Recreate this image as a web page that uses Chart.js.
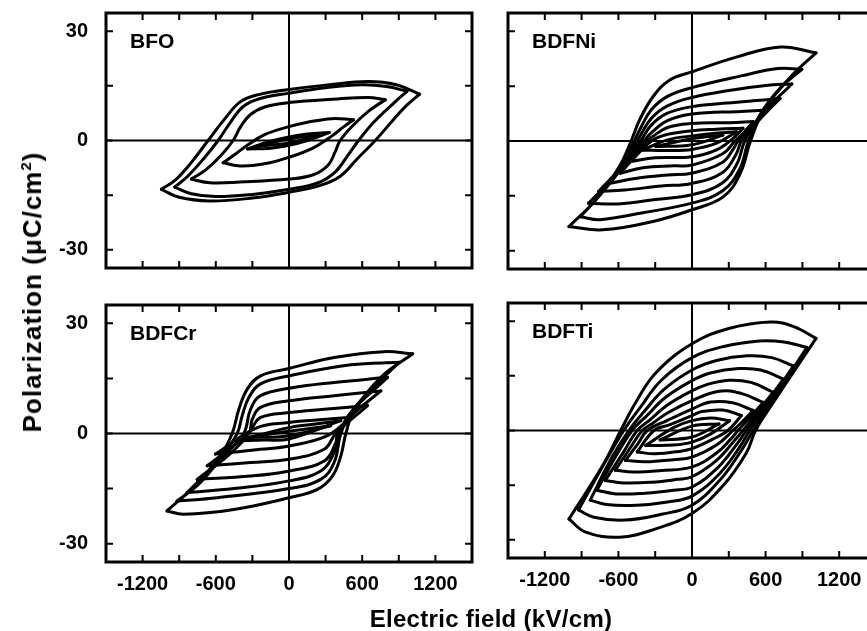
<!DOCTYPE html>
<html>
<head>
<meta charset="utf-8">
<script src="https://cdn.jsdelivr.net/npm/chart.js@4.4.1/dist/chart.umd.min.js"></script>
<style>
  html, body { margin: 0; padding: 0; background: #fff; overflow: hidden; }
  body { width: 867px; height: 631px; position: relative; font-family: "Liberation Sans", Arial, sans-serif; }
  canvas { position: absolute; }
  .axt { position: absolute; font-weight: bold; font-size: 24px; line-height: 24px; color: #000; white-space: nowrap; }
  .axt sup { font-size: 15px; line-height: 0; vertical-align: 10px; }
  #xTitle { left: 491px; top: 607px; transform: translateX(-50%); letter-spacing: 0.3px; }
  #yTitle { left: 32px; top: 292px; font-size: 26px; letter-spacing: 1px; transform: translate(-50%, -50%) rotate(-90deg); }
</style>
</head>
<body>
<canvas id="pBFO" width="490" height="300" style="left:0;top:0"></canvas>
<canvas id="pNi" width="400" height="300" style="left:490px;top:0"></canvas>
<canvas id="pCr" width="490" height="320" style="left:0;top:290px"></canvas>
<canvas id="pTi" width="400" height="320" style="left:490px;top:290px"></canvas>
<div class="axt" id="xTitle">Electric field (kV/cm)</div>
<div class="axt" id="yTitle">Polarization (&mu;C/cm<sup>2</sup>)</div>
<script>
// axis ticks (kV/cm and uC/cm2)
const eTicks = [-1200, -900, -600, -300, 0, 300, 600, 900, 1200];
const eLabels = [-1200, -600, 0, 600, 1200];
const pTicks = [-30, -15, 0, 15, 30];
const pLabels = [-30, 0, 30];

// each loop: upper branch (field going down) and lower branch (field going up), [E, P]
const bfoUpper = [
  [[1071,12.7],[880,15.3],[650,16.2],[300,15.2],[0,14.0],[-250,12.6],[-400,10.6],[-530,5.8],[-663,0],[-800,-6],[-930,-10.8],[-1046,-13.4]],
  [[967,13.5],[800,14.8],[600,15.3],[300,14.5],[0,13.0],[-250,11.4],[-380,9.2],[-480,5.0],[-581,0],[-700,-5.0],[-830,-9.8],[-937,-12.8]],
  [[789,11.2],[650,11.8],[400,11.4],[0,10.4],[-200,9.2],[-320,7.0],[-400,3.6],[-458,0],[-560,-4.2],[-680,-8.0],[-800,-10.6]],
  [[529,5.7],[350,6.0],[150,5.0],[0,3.8],[-200,1.6],[-350,-1.5],[-450,-4.0],[-540,-6.1]],
  [[330,2.2],[150,1.8],[0,1.0],[-150,-0.2],[-340,-2.3]],
  [[240,1.5],[0,0.4],[-260,-1.6]]
];
const bfoLower = [
  [[-1046,-13.4],[-900,-15.6],[-650,-16.6],[-300,-15.8],[0,-14.2],[250,-12.4],[420,-9.8],[560,-5.0],[707,0],[850,5.5],[960,9.5],[1071,12.7]],
  [[-937,-12.8],[-800,-14.6],[-600,-15.4],[-300,-14.8],[0,-13.4],[240,-11.6],[380,-8.6],[480,-4.2],[570,0],[700,5.2],[850,10.0],[967,13.5]],
  [[-800,-10.6],[-650,-11.6],[-400,-11.4],[0,-10.6],[200,-9.4],[320,-6.8],[380,-3.0],[419,0],[520,4.0],[650,8.0],[789,11.2]],
  [[-540,-6.1],[-400,-7.0],[-200,-6.4],[0,-4.6],[200,-2.0],[350,1.2],[450,3.8],[529,5.7]],
  [[-340,-2.3],[-150,-2.1],[0,-1.3],[150,0],[330,2.2]],
  [[-260,-1.6],[0,-0.7],[240,1.5]]
];

const niUpper = [
  [[1011,24.1],[723,25.7],[367,23.0],[0,18.9],[-181,16.7],[-318,12.1],[-428,5.7],[-496,0],[-592,-7.0],[-784,-16.1],[-1003,-23.4]],
  [[896,19.6],[700,19.8],[400,17.8],[0,14.6],[-200,12.2],[-330,8.6],[-420,3.5],[-470,0],[-580,-7.5],[-750,-14.8],[-910,-20.7]],
  [[814,15.6],[600,15.2],[300,13.8],[0,11.9],[-200,9.6],[-330,6.2],[-447,0],[-600,-8.5],[-844,-17.0]],
  [[718,11.6],[500,11.0],[250,10.3],[0,9.4],[-200,7.6],[-330,4.4],[-419,0],[-560,-6.5],[-762,-13.8]],
  [[622,8.5],[400,8.1],[0,7.4],[-200,5.6],[-320,2.6],[-392,0],[-520,-5.5],[-680,-11.6]],
  [[499,5.3],[300,5.0],[0,4.8],[-200,3.7],[-330,1.0],[-370,0],[-460,-4.0],[-584,-8.8]],
  [[416,3.5],[200,3.2],[0,2.8],[-200,1.8],[-330,0],[-501,-5.6]],
  [[362,2.5],[150,2.0],[0,1.4],[-200,0.3],[-405,-2.5]],
  [[252,1.6],[0,0.6],[-296,-1.5]]
];
const niLower = [
  [[-1003,-23.4],[-729,-24.3],[-318,-22.0],[0,-18.8],[257,-15.2],[394,-8.8],[477,0],[586,8.5],[806,17.6],[1011,24.1]],
  [[-910,-20.7],[-750,-21.5],[-400,-19.6],[0,-17.0],[250,-13.6],[390,-7.6],[460,0],[560,7.5],[720,14.5],[896,19.6]],
  [[-844,-17.0],[-600,-17.2],[-300,-16.0],[0,-14.7],[250,-11.4],[370,-6.0],[430,0],[560,7.0],[814,15.6]],
  [[-762,-13.8],[-550,-13.4],[-250,-12.3],[0,-11.6],[250,-8.6],[360,-3.6],[403,0],[550,5.8],[718,11.6]],
  [[-680,-11.6],[-450,-10.2],[-200,-9.3],[0,-8.8],[250,-5.8],[340,-2.0],[375,0],[500,4.5],[622,8.5]],
  [[-584,-8.8],[-400,-7.3],[-150,-6.8],[0,-6.6],[250,-3.5],[350,0],[430,2.6],[499,5.3]],
  [[-501,-5.6],[-300,-4.6],[0,-4.3],[200,-2.4],[330,0.6],[416,3.5]],
  [[-405,-2.5],[-200,-2.6],[0,-2.3],[200,-0.6],[362,2.5]],
  [[-296,-1.5],[0,-1.0],[252,1.6]]
];

const crUpper = [
  [[1014,21.7],[781,22.3],[370,20.7],[0,17.7],[-233,15.7],[-342,12.1],[-411,6.6],[-466,0],[-562,-6.0],[-781,-14.5],[-1000,-21.1]],
  [[904,19.4],[507,18.7],[0,15.7],[-233,13.5],[-329,9.8],[-384,4.8],[-425,0],[-548,-6.1],[-730,-13.5],[-918,-18.4]],
  [[808,15.3],[370,13.9],[0,12.3],[-233,10.3],[-315,6.6],[-370,0],[-507,-5.2],[-680,-11.0],[-836,-16.1]],
  [[753,11.6],[370,10.3],[0,8.9],[-233,7.1],[-301,3.9],[-329,0],[-500,-6.0],[-753,-12.5]],
  [[644,7.6],[288,6.6],[0,5.7],[-233,4.4],[-301,1.6],[-330,0],[-671,-8.8]],
  [[507,4.4],[200,3.6],[0,3.0],[-260,1.6],[-603,-5.6]],
  [[425,3.5],[200,2.5],[0,1.6],[-425,-2.0]],
  [[342,2.1],[0,0.6],[-342,-1.1]]
];
const crLower = [
  [[-1000,-21.1],[-863,-22.0],[-452,-20.7],[0,-17.5],[233,-15.2],[356,-11.6],[425,-6.1],[466,0],[534,6.2],[753,15.3],[1014,21.7]],
  [[-918,-18.4],[-589,-17.5],[0,-15.0],[260,-12.5],[370,-7.9],[425,0],[507,5.7],[700,12.8],[904,19.4]],
  [[-836,-16.1],[-452,-15.0],[0,-12.9],[260,-10.2],[370,-5.2],[411,0],[507,5.7],[808,15.3]],
  [[-753,-12.5],[-315,-11.6],[0,-10.2],[288,-7.5],[384,-2.5],[397,0],[500,4.5],[753,11.6]],
  [[-671,-8.8],[-315,-7.9],[0,-7.0],[288,-4.3],[384,0],[644,7.6]],
  [[-603,-5.6],[-233,-4.3],[0,-3.4],[315,-0.6],[507,4.4]],
  [[-425,-2.0],[-200,-1.8],[0,-1.5],[425,3.5]],
  [[-342,-1.1],[0,-0.6],[342,2.1]]
];

const tiUpper = [
  [[1011,25.3],[830,28.5],[641,29.8],[300,28.0],[0,23.8],[-296,15.8],[-460,7.6],[-581,0],[-729,-9.7],[-1003,-24.3]],
  [[937,22.8],[750,24.3],[550,24.6],[250,23.0],[0,20.0],[-250,13.8],[-420,6.4],[-556,0],[-700,-8.2],[-926,-21.8]],
  [[827,17.7],[650,20.0],[450,20.5],[200,19.2],[0,16.6],[-230,11.2],[-390,5.2],[-515,0],[-650,-7.2],[-830,-19.1]],
  [[745,14.1],[560,16.6],[380,17.0],[150,15.8],[0,13.7],[-220,9.0],[-370,4.0],[-488,0],[-620,-7.0],[-775,-16.4]],
  [[663,10.5],[480,13.2],[300,13.8],[120,12.6],[0,10.9],[-200,7.0],[-340,3.0],[-447,0],[-560,-6.0],[-707,-13.7]],
  [[581,7.7],[400,10.2],[220,10.8],[0,8.2],[-200,4.8],[-320,2.0],[-405,0],[-500,-4.6],[-625,-10.9]],
  [[499,5.5],[330,7.6],[150,7.8],[0,5.9],[-200,2.8],[-364,0],[-440,-3.6],[-543,-8.2]],
  [[403,4.1],[250,5.6],[80,5.2],[0,4.1],[-180,1.6],[-310,0],[-447,-5.9]],
  [[307,2.7],[150,3.4],[0,2.7],[-150,0.8],[-378,-4.1]],
  [[220,1.8],[0,1.2],[-260,-2.6]]
];
const tiLower = [
  [[-1003,-24.3],[-866,-27.9],[-592,-29.3],[-296,-27.0],[0,-22.8],[252,-15.2],[444,-6.1],[518,0],[641,6.6],[1011,25.3]],
  [[-926,-21.8],[-800,-23.8],[-550,-24.6],[-250,-23.0],[0,-20.5],[230,-13.5],[400,-5.6],[499,0],[640,7.5],[937,22.8]],
  [[-830,-19.1],[-700,-20.3],[-450,-20.5],[-200,-19.6],[0,-18.0],[220,-12.0],[380,-5.0],[471,0],[600,6.5],[827,17.7]],
  [[-775,-16.4],[-620,-17.4],[-380,-17.2],[-150,-16.4],[0,-15.5],[210,-10.2],[360,-4.0],[444,0],[570,6.0],[745,14.1]],
  [[-707,-13.7],[-560,-14.4],[-330,-14.2],[-120,-13.4],[0,-12.7],[200,-8.2],[340,-3.0],[416,0],[520,4.6],[663,10.5]],
  [[-625,-10.9],[-480,-11.4],[-250,-11.0],[0,-10.0],[200,-6.2],[320,-2.2],[375,0],[460,3.2],[581,7.7]],
  [[-543,-8.2],[-380,-8.6],[-150,-8.0],[0,-7.3],[200,-4.0],[334,0],[410,2.4],[499,5.5]],
  [[-447,-5.9],[-300,-6.4],[-80,-5.6],[0,-5.0],[180,-2.2],[293,0],[403,4.1]],
  [[-378,-4.1],[-150,-4.0],[0,-3.2],[150,-1.0],[307,2.7]],
  [[-260,-2.6],[0,-1.8],[220,1.8]]
];

const tickFont = { family: '"Liberation Sans", Arial, sans-serif', size: 20, weight: 'bold' };

// zero lines, box, inward ticks and the sample name
const panelFrame = {
  id: 'panelFrame',
  beforeDatasetsDraw(chart) {
    const { ctx, chartArea: a, scales: { x, y } } = chart;
    const x0 = x.getPixelForValue(0), y0 = y.getPixelForValue(0);
    ctx.save();
    ctx.strokeStyle = '#000';
    ctx.lineWidth = 2;
    ctx.beginPath();
    ctx.moveTo(x0, a.top); ctx.lineTo(x0, a.bottom);
    ctx.moveTo(a.left, y0); ctx.lineTo(a.right, y0);
    ctx.stroke();
    ctx.restore();
  },
  afterDatasetsDraw(chart, args, opts) {
    const { ctx, chartArea: a, scales: { x, y } } = chart;
    ctx.save();
    ctx.strokeStyle = '#000';
    ctx.lineWidth = 2;
    ctx.beginPath();
    eTicks.forEach(v => {
      const px = x.getPixelForValue(v);
      ctx.moveTo(px, a.bottom); ctx.lineTo(px, a.bottom - 7);
      ctx.moveTo(px, a.top); ctx.lineTo(px, a.top + 7);
    });
    pTicks.forEach(v => {
      const py = y.getPixelForValue(v);
      ctx.moveTo(a.left, py); ctx.lineTo(a.left + 7, py);
      ctx.moveTo(a.right, py); ctx.lineTo(a.right - 7, py);
    });
    ctx.stroke();
    ctx.lineWidth = 3;
    ctx.strokeRect(a.left, a.top, a.right - a.left, a.bottom - a.top);
    ctx.fillStyle = '#000';
    ctx.font = 'bold 21px "Liberation Sans", Arial, sans-serif';
    ctx.textBaseline = 'alphabetic';
    ctx.fillText(opts.name, a.left + 24, a.top + 35);
    ctx.restore();
  }
};

function branch(pts) {
  return {
    data: pts.map(([e, p]) => ({ x: e, y: p })),
    showLine: true,
    pointRadius: 0,
    borderColor: '#000',
    borderWidth: 3,
    borderCapStyle: 'round',
    borderJoinStyle: 'round',
    tension: 0.4,
    fill: false
  };
}

function makePanel(id, name, upper, lower, box) {
  const datasets = [];
  upper.forEach((pts, i) => {
    datasets.push(branch(pts));
    datasets.push(branch(lower[i]));
  });
  return new Chart(document.getElementById(id), {
    type: 'scatter',
    data: { datasets },
    options: {
      responsive: false,
      animation: false,
      events: [],
      layout: { padding: { top: box.top, right: box.right, left: 0, bottom: 0 } },
      plugins: {
        legend: { display: false },
        tooltip: { enabled: false },
        panelFrame: { name }
      },
      scales: {
        x: {
          type: 'linear', min: -1500, max: 1500,
          afterBuildTicks: s => { s.ticks = eTicks.map(v => ({ value: v })); },
          afterFit: s => { s.height = box.xh; s.paddingLeft = 0; s.paddingRight = 0; },
          grid: { display: false, drawTicks: false },
          border: { display: false },
          ticks: {
            display: box.xLabels, padding: 10, autoSkip: false, maxRotation: 0,
            color: '#000', font: tickFont,
            callback: v => eLabels.includes(v) ? String(v) : ''
          }
        },
        y: {
          type: 'linear', min: -35, max: 35,
          afterBuildTicks: s => { s.ticks = pTicks.map(v => ({ value: v })); },
          afterFit: s => { s.width = box.yw; s.paddingTop = 0; s.paddingBottom = 0; },
          grid: { display: false, drawTicks: false },
          border: { display: false },
          ticks: {
            display: box.yLabels, padding: 18, autoSkip: false,
            color: '#000', font: tickFont,
            callback: v => pLabels.includes(v) ? String(v) : ''
          }
        }
      }
    },
    plugins: [panelFrame]
  });
}

makePanel('pBFO', 'BFO', bfoUpper, bfoLower, { top: 13, right: 18, xh: 32, yw: 106, xLabels: false, yLabels: true });
makePanel('pNi', 'BDFNi', niUpper, niLower, { top: 13, right: 14, xh: 31, yw: 18, xLabels: false, yLabels: false });
makePanel('pCr', 'BDFCr', crUpper, crLower, { top: 15, right: 18, xh: 48, yw: 106, xLabels: true, yLabels: true });
makePanel('pTi', 'BDFTi', tiUpper, tiLower, { top: 13, right: 14, xh: 52, yw: 18, xLabels: true, yLabels: false });
</script>
</body>
</html>
